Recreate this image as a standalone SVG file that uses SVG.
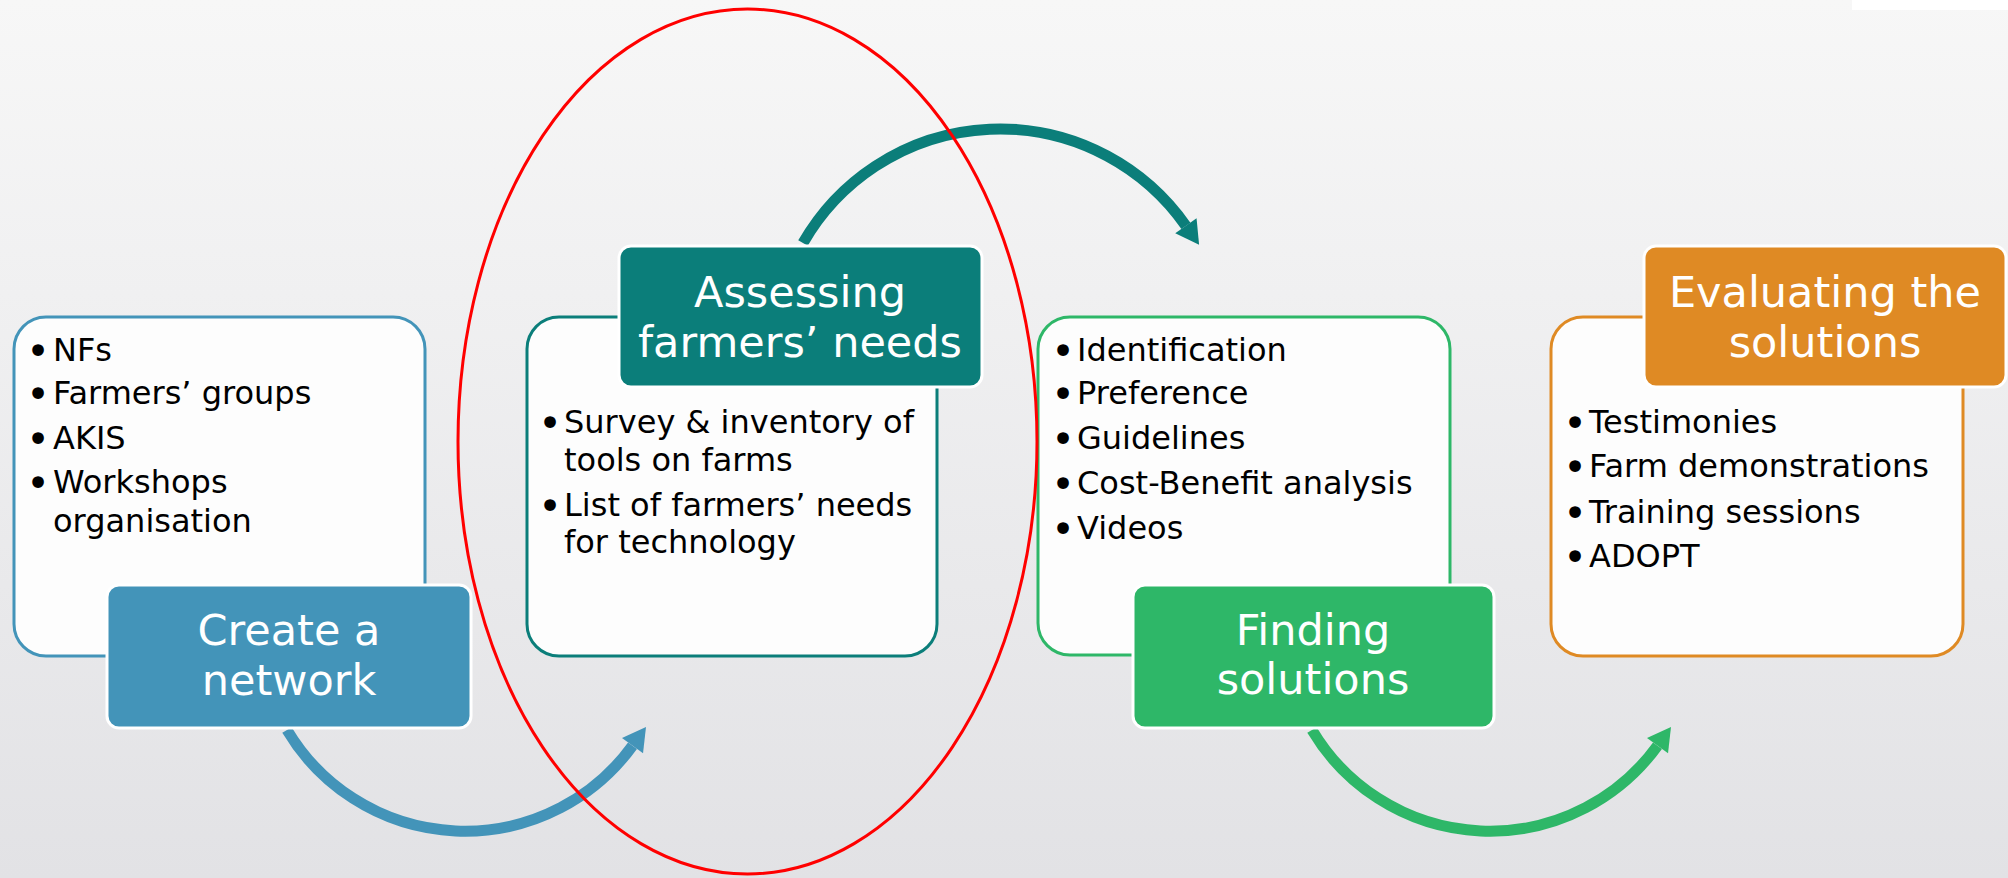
<svg xmlns="http://www.w3.org/2000/svg" width="2008" height="878" viewBox="0 0 2008 878">
  <defs>
    <linearGradient id="bg" x1="0" y1="0" x2="0" y2="1">
      <stop offset="0" stop-color="#F7F7F7"/>
      <stop offset="1" stop-color="#E2E2E5"/>
    </linearGradient>
    <marker id="mBlue" markerUnits="userSpaceOnUse" markerWidth="30" markerHeight="30" viewBox="0 -15 24 30" refX="0" refY="0" orient="auto">
      <path d="M0,-13 L23,0 L0,13 Z" fill="#4394B9"/>
    </marker>
    <marker id="mTeal" markerUnits="userSpaceOnUse" markerWidth="30" markerHeight="30" viewBox="0 -15 24 30" refX="0" refY="0" orient="auto">
      <path d="M0,-13 L23,0 L0,13 Z" fill="#0B7E7A"/>
    </marker>
    <marker id="mGreen" markerUnits="userSpaceOnUse" markerWidth="30" markerHeight="30" viewBox="0 -15 24 30" refX="0" refY="0" orient="auto">
      <path d="M0,-13 L23,0 L0,13 Z" fill="#2EB768"/>
    </marker>
  </defs>
  <style>
    .card { fill: #FDFDFD; stroke-width: 3; }
    .head { stroke: #FFFFFF; stroke-width: 3; }
    .htxt { font-family: "DejaVu Sans", sans-serif; font-size: 43px; fill: #FFFFFF; text-anchor: middle; }
    .btxt { font-family: "DejaVu Sans", sans-serif; font-size: 32px; fill: #000000; }
    .dot { font-family: "DejaVu Sans", sans-serif; font-size: 40px; fill: #000000; text-anchor: middle; }
    .arc { fill: none; stroke-width: 11; }
  </style>

  <rect x="0" y="0" width="2008" height="878" fill="url(#bg)"/>
  <rect x="1852" y="0" width="156" height="10" fill="#FFFFFF"/>

  <g id="connectors">
    <path class="arc" d="M 287 730 A 207 207 0 0 0 632.5 745.7" stroke="#4394B9" marker-end="url(#mBlue)"/>
    <path class="arc" d="M 803 243 A 227 227 0 0 1 1185.9 225.8" stroke="#0B7E7A" marker-end="url(#mTeal)"/>
    <path class="arc" d="M 1312 730 A 207 207 0 0 0 1657.5 745.7" stroke="#2EB768" marker-end="url(#mGreen)"/>
  </g>

  <g id="node-create">
    <rect class="card" x="14" y="317" width="411" height="339" rx="32" stroke="#4394B9"/>
    <text class="dot" x="38" y="365">•</text><text class="btxt" x="53" y="361">NFs</text>
    <text class="dot" x="38" y="408">•</text><text class="btxt" x="53" y="404">Farmers’ groups</text>
    <text class="dot" x="38" y="453">•</text><text class="btxt" x="53" y="449">AKIS</text>
    <text class="dot" x="38" y="497">•</text><text class="btxt" x="53" y="493">Workshops</text>
    <text class="btxt" x="53" y="532">organisation</text>
    <rect class="head" x="107" y="585" width="364" height="143" rx="12" fill="#4394B9"/>
    <text class="htxt" x="289" y="645">Create a</text>
    <text class="htxt" x="289" y="695">network</text>
  </g>

  <g id="node-assess">
    <rect class="card" x="527" y="317" width="410" height="339" rx="32" stroke="#0B7E7A"/>
    <rect class="head" x="619" y="246" width="363" height="141" rx="12" fill="#0B7E7A"/>
    <text class="htxt" x="800" y="307">Assessing</text>
    <text class="htxt" x="800" y="357">farmers’ needs</text>
    <text class="dot" x="550" y="437">•</text><text class="btxt" x="564" y="433">Survey &amp; inventory of</text>
    <text class="btxt" x="564" y="471">tools on farms</text>
    <text class="dot" x="550" y="520">•</text><text class="btxt" x="564" y="516">List of farmers’ needs</text>
    <text class="btxt" x="564" y="553">for technology</text>
  </g>

  <g id="node-finding">
    <rect class="card" x="1038" y="317" width="412" height="338" rx="32" stroke="#2EB768"/>
    <text class="dot" x="1063" y="365">•</text><text class="btxt" x="1077" y="361">Identification</text>
    <text class="dot" x="1063" y="408">•</text><text class="btxt" x="1077" y="404">Preference</text>
    <text class="dot" x="1063" y="453">•</text><text class="btxt" x="1077" y="449">Guidelines</text>
    <text class="dot" x="1063" y="498">•</text><text class="btxt" x="1077" y="494">Cost-Benefit analysis</text>
    <text class="dot" x="1063" y="543">•</text><text class="btxt" x="1077" y="539">Videos</text>
    <rect class="head" x="1133" y="585" width="361" height="143" rx="12" fill="#2EB768"/>
    <text class="htxt" x="1313" y="645">Finding</text>
    <text class="htxt" x="1313" y="694">solutions</text>
  </g>

  <g id="node-evaluate">
    <rect class="card" x="1551" y="317" width="412" height="339" rx="32" stroke="#DF8A24"/>
    <rect class="head" x="1644" y="246" width="362" height="141" rx="12" fill="#DF8A24"/>
    <text class="htxt" x="1825" y="307">Evaluating the</text>
    <text class="htxt" x="1825" y="357">solutions</text>
    <text class="dot" x="1575" y="437">•</text><text class="btxt" x="1589" y="433">Testimonies</text>
    <text class="dot" x="1575" y="481">•</text><text class="btxt" x="1589" y="477">Farm demonstrations</text>
    <text class="dot" x="1575" y="527">•</text><text class="btxt" x="1589" y="523">Training sessions</text>
    <text class="dot" x="1575" y="571">•</text><text class="btxt" x="1589" y="567">ADOPT</text>
  </g>

  <ellipse id="highlight" cx="747.5" cy="441.5" rx="289.5" ry="432.5" fill="none" stroke="#FF0000" stroke-width="3"/>
</svg>
